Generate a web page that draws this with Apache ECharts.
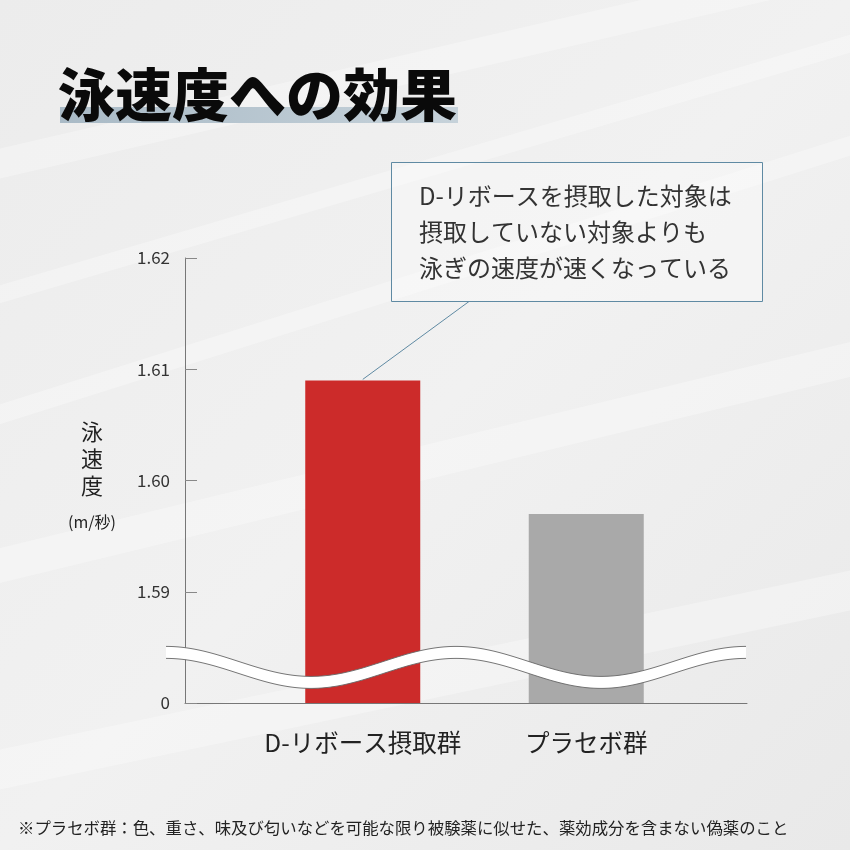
<!DOCTYPE html>
<html><head><meta charset="utf-8">
<script src="https://cdn.jsdelivr.net/npm/echarts@6/dist/echarts.min.js"></script>
<style>html,body{margin:0;padding:0;background:#ececec}#c{width:850px;height:850px}</style>
</head><body><div id="c"></div>
<script>
const categories = ['D-リボース摂取群', 'プラセボ群'];
const speedValues = [1.609, 1.597];
const barColors = ['#cc2b2a', '#a9a9a9'];
const yTickValues = [1.58, 1.59, 1.60, 1.61, 1.62];
const yTickLabels = ['0', '1.59', '1.60', '1.61', '1.62'];
const titleText = '泳速度への効果';
const noteLines = ['D-リボースを摂取した対象は', '摂取していない対象よりも', '泳ぎの速度が速くなっている'];
const footnote = '※プラセボ群：色、重さ、味及び匂いなどを可能な限り被験薬に似せた、薬効成分を含まない偽薬のこと';

const FONT = '"Noto Sans CJK JP", "Noto Sans", sans-serif';
const chart = echarts.init(document.getElementById('c'));

function labelFor(v) {
  for (let i = 0; i < yTickValues.length; i++) if (Math.abs(v - yTickValues[i]) < 1e-6) return yTickLabels[i];
  return '';
}

const option = {
  animation: false,
  backgroundColor: {
    type: 'linear', x: 0, y: 0, x2: 1, y2: 1,
    colorStops: [{offset: 0, color: '#ececec'}, {offset: 0.5, color: '#f1f1f1'}, {offset: 1, color: '#e9e9e9'}]
  },
  grid: [
    {left: 185, right: 103, top: 258, bottom: 147},
    {left: 251, width: 447, top: 258, bottom: 147}
  ],
  xAxis: [
    {gridIndex: 0, type: 'value', min: 0, max: 1, axisLine: {show: true, lineStyle: {color: '#777', width: 1}},
     axisTick: {show: false}, axisLabel: {show: false}, splitLine: {show: false}},
    {gridIndex: 1, type: 'category', data: categories, axisLine: {show: false}, axisTick: {show: false},
     axisLabel: {interval: 0, fontSize: 24.5, color: '#222', fontFamily: FONT, margin: 27}}
  ],
  yAxis: [
    {gridIndex: 0, type: 'value', min: 1.58, max: 1.62, interval: 0.01,
     axisLine: {show: true, lineStyle: {color: '#777', width: 1}},
     axisTick: {show: true, inside: true, length: 12, lineStyle: {color: '#888'}},
     axisLabel: {fontSize: 17, color: '#333', fontFamily: FONT, margin: 15, formatter: labelFor},
     splitLine: {show: false}},
    {gridIndex: 1, type: 'value', min: 1.58, max: 1.62, interval: 0.01, show: false, splitLine: {show: false}}
  ],
  series: [{
    type: 'bar', xAxisIndex: 1, yAxisIndex: 1, barWidth: 115,
    data: speedValues.map((v, i) => ({value: v, itemStyle: {color: barColors[i]}}))
  }]
};
chart.setOption(option);

const g = [];
const streaks = [[-50, 160, 900, -60, 30], [-50, 420, 900, 120, 20], [-50, 560, 900, 330, 35], [-50, 300, 900, 20, 18], [-50, 760, 900, 560, 40]];
streaks.forEach(s => {
  g.push({type: 'polygon', silent: true, z: -10, shape: {points: [[s[0], s[1]], [s[2], s[3]], [s[2], s[3] + s[4]], [s[0], s[1] + s[4]]]},
    style: {fill: 'rgba(255,255,255,0.3)'}});
});
g.push({type: 'rect', silent: true, z: 1, shape: {x: 60, y: 107, width: 398, height: 16},
  style: {fill: {type: 'linear', x: 0, y: 0, x2: 1, y2: 0, colorStops: [{offset: 0, color: '#a9bac6'}, {offset: 1, color: '#c6d2da'}]}}});
g.push({type: 'text', silent: true, z: 2, x: 58, y: 94, style: {text: titleText, font: '900 57px ' + FONT, fill: '#0a0a0a', verticalAlign: 'middle'}});
g.push({type: 'text', silent: true, z: 2, x: 92, y: 459, style: {text: '泳\n速\n度', font: '22px ' + FONT, fill: '#222', align: 'center', verticalAlign: 'middle', lineHeight: 27}});
g.push({type: 'text', silent: true, z: 2, x: 92, y: 522, style: {text: '(m/秒)', font: '16px ' + FONT, fill: '#222', align: 'center', verticalAlign: 'middle'}});
g.push({type: 'rect', silent: true, z: 3, shape: {x: 391.5, y: 162.5, width: 371, height: 139},
  style: {fill: 'rgba(255,255,255,0.3)', stroke: '#5f8aa3', lineWidth: 1}});
g.push({type: 'text', silent: true, z: 4, x: 419, y: 232, style: {text: noteLines.join('\n'), font: '24px ' + FONT, fill: '#333', verticalAlign: 'middle', lineHeight: 36}});
const top0 = chart.convertToPixel({xAxisIndex: 1, yAxisIndex: 1}, [0, speedValues[0]]);
g.push({type: 'line', silent: true, z: 3, shape: {x1: top0[0], y1: top0[1] - 1, x2: 469, y2: 301.5}, style: {stroke: '#5f8aa3', lineWidth: 1}});
const yCenter = chart.convertToPixel({yAxisIndex: 0}, 1.5832);
const amp = 15, x0 = 166, x1 = 747, period = 290, gap = 12;
const up = [], lo = [];
for (let x = x0; x <= x1; x += 2) {
  const y = yCenter - gap / 2 - amp * Math.cos(2 * Math.PI * (x - x0) / period);
  up.push([x, y]); lo.push([x, y + gap]);
}
g.push({type: 'polygon', silent: true, z: 10, shape: {points: up.concat(lo.slice().reverse())}, style: {fill: '#ffffff'}});
g.push({type: 'polyline', silent: true, z: 11, shape: {points: up}, style: {stroke: '#666', lineWidth: 0.9, fill: null}});
g.push({type: 'polyline', silent: true, z: 11, shape: {points: lo}, style: {stroke: '#666', lineWidth: 0.9, fill: null}});
g.push({type: 'text', silent: true, z: 2, x: 18, y: 828, style: {text: footnote, font: '16.4px ' + FONT, fill: '#222', verticalAlign: 'middle'}});
chart.setOption({graphic: g});
</script></body></html>
